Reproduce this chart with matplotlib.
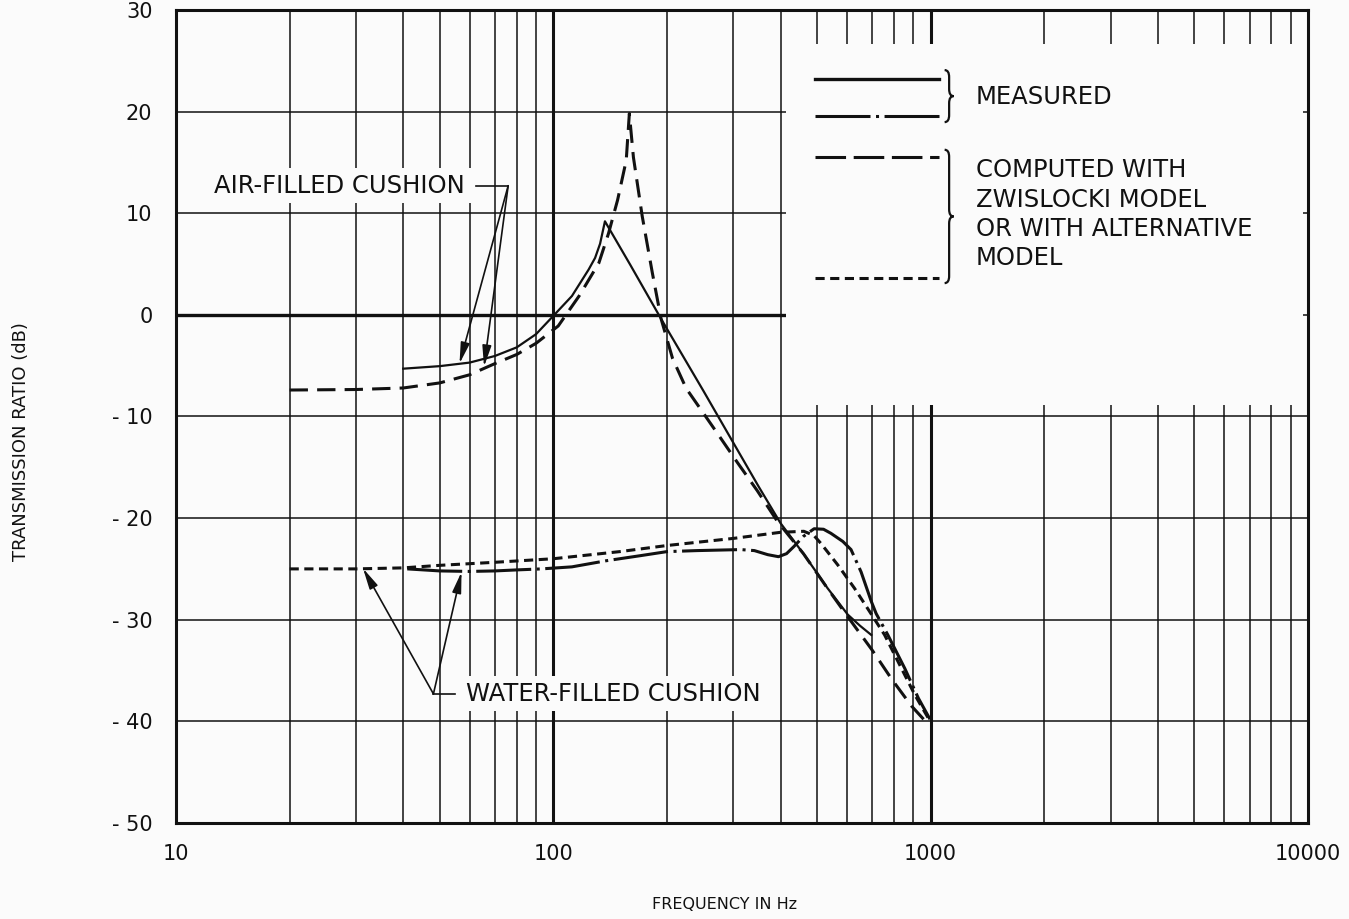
import matplotlib
matplotlib.use("Agg")
import matplotlib.pyplot as plt
from matplotlib.lines import Line2D
from matplotlib.patches import Rectangle, PathPatch
from matplotlib.path import Path

# ---- data ----
# air-filled cushion, measured (solid)
air_meas_f = [40, 50, 60, 70, 80, 90, 100, 112, 124, 129, 133, 137, 160, 193, 250, 300, 350, 400,
              462, 533, 603, 650, 696]
air_meas_db = [-5.3, -5.05, -4.7, -4.05, -3.2, -1.9, -0.1, 1.85, 4.45, 5.6, 7.0, 9.2, 4.9, -0.4,
               -7.5, -12.6, -16.9, -20.5, -23.6, -26.9, -29.5, -30.6, -31.5]

# air-filled cushion, computed (long dash)
air_comp_f = [20, 30, 40, 50, 60, 70, 80, 90, 103, 117, 132, 140, 148, 156, 159, 163, 172, 183,
              193, 207, 225, 249, 276, 307, 347, 392, 460, 530, 600, 700, 790, 890, 980]
air_comp_db = [-7.4, -7.35, -7.2, -6.7, -5.9, -4.8, -3.9, -2.8, -1.1, 1.85, 5.1, 8.0, 11.3, 15.2,
               19.8, 15.5, 9.7, 4.1, -0.4, -4.3, -7.25, -9.6, -12.0, -14.5, -17.3, -20.3, -23.5,
               -26.8, -29.6, -33.0, -35.9, -38.5, -40.2]

# water-filled cushion, measured (dash-dot)
water_meas_f = [41, 50, 60, 70, 80, 93, 112, 138, 170, 200, 240, 314, 341, 370, 395, 415, 434,
                460, 491, 520, 544, 585, 615, 654, 696, 717, 770, 854, 927, 996]
water_meas_db = [-25.0, -25.2, -25.25, -25.2, -25.1, -25.0, -24.8, -24.2, -23.7, -23.3, -23.2,
                 -23.1, -23.2, -23.6, -23.8, -23.5, -22.8, -21.8, -21.05, -21.1, -21.5, -22.3,
                 -23.1, -25.3, -28.2, -29.4, -31.5, -34.8, -37.7, -39.8]

# water-filled cushion, computed with alternative model (short dash)
water_comp_f = [20, 30, 40, 50, 70, 100, 150, 200, 300, 400, 461, 490, 512, 567, 628, 689, 755,
                837, 908, 986]
water_comp_db = [-25.0, -25.0, -24.9, -24.65, -24.35, -24.0, -23.3, -22.7, -22.0, -21.4, -21.3,
                 -21.7, -22.5, -24.6, -26.9, -29.2, -31.5, -34.8, -37.4, -39.7]

x_ticks = [10, 100, 1000, 10000]
x_tick_labels = ["10", "100", "1000", "10000"]
y_ticks = [-50, -40, -30, -20, -10, 0, 10, 20, 30]
y_tick_labels = ["- 50", "- 40", "- 30", "- 20", "- 10", "0", "10", "20", "30"]

legend_texts = ["MEASURED", "COMPUTED WITH", "ZWISLOCKI MODEL", "OR WITH ALTERNATIVE", "MODEL"]

BG = "#fbfbfb"
INK = "#111111"

plt.rcParams["font.family"] = ["DejaVu Sans"]
plt.rcParams["axes.unicode_minus"] = False

fig = plt.figure(figsize=(13.49, 9.19), dpi=100, facecolor=BG)
ax = fig.add_axes([0.1305, 0.1045, 0.8391, 0.8847], facecolor=BG)
AX_W, AX_H = 1132.0, 813.0  # axes size in pixels

ax.set_xscale("log")
ax.set_xlim(10, 10000)
ax.set_ylim(-50, 30)

# grid
ax.set_axisbelow(True)
ax.grid(True, which="both", color=INK, lw=1.1)
ax.axvline(100, color=INK, lw=2.2, zorder=0.6)
ax.axvline(1000, color=INK, lw=2.2, zorder=0.6)
ax.hlines(0, 10, 414, color=INK, lw=2.4, zorder=0.7)

# blank panel holding the key
ax.add_patch(Rectangle((414, -8.9), 9710 - 414, 26.65 + 8.9, fc=BG, ec="none", zorder=1))

ax.set_xticks(x_ticks)
ax.set_xticklabels(x_tick_labels)
ax.set_yticks(y_ticks)
ax.set_yticklabels(y_tick_labels)
ax.xaxis.set_minor_formatter(plt.NullFormatter())
ax.tick_params(which="both", length=0, labelsize=15, colors=INK)
ax.tick_params(axis="x", pad=15)
ax.tick_params(axis="y", pad=17)
for sp in ax.spines.values():
    sp.set_linewidth(2.2)
    sp.set_color(INK)

# curves
LW = 2.2
ax.plot(air_meas_f, air_meas_db, color=INK, lw=1.6, zorder=3)
ax.plot(air_comp_f, air_comp_db, color=INK, lw=LW, ls=(0, (6, 3)), zorder=3)
ax.plot(water_meas_f, water_meas_db, color=INK, lw=LW, ls=(0, (18, 1.8, 1, 1.8)), zorder=3)
ax.plot(water_comp_f, water_comp_db, color=INK, lw=LW, ls=(0, (3, 1.8)), zorder=3)

# labels with arrows
FS = 17.5
txt_kw = dict(fontsize=FS, color=INK, va="center", zorder=4,
              bbox=dict(fc=BG, ec="none", pad=4))
arr = dict(arrowstyle="-|>,head_length=0.7,head_width=0.15", color=INK, lw=1.2,
           shrinkA=0, shrinkB=0, mutation_scale=18)

ax.text(58.3, 12.7, "AIR-FILLED CUSHION", ha="right", **txt_kw)
ax.plot([62.2, 75.9], [12.7, 12.7], color=INK, lw=1.2, zorder=4)
ax.annotate("", xy=(56.4, -4.8), xytext=(75.9, 12.7), arrowprops=arr, zorder=4)
ax.annotate("", xy=(65.5, -5.1), xytext=(75.9, 12.7), arrowprops=arr, zorder=4)

ax.text(58.7, -37.3, "WATER-FILLED CUSHION", ha="left", **txt_kw)
ax.plot([48.1, 54.8], [-37.3, -37.3], color=INK, lw=1.2, zorder=4)
ax.annotate("", xy=(31.3, -24.95), xytext=(48.1, -37.3), arrowprops=arr, zorder=4)
ax.annotate("", xy=(57.1, -25.3), xytext=(48.1, -37.3), arrowprops=arr, zorder=4)

# key
kx0, kx1 = 0.5645, 0.674
key_styles = [
    (0.915, dict(lw=2.4, ls="-")),
    (0.869, dict(lw=LW, ls=(0, (18, 1.8, 1, 1.8)))),
    (0.819, dict(lw=LW, ls=(0, (10, 2.5)))),
    (0.670, dict(lw=LW, ls=(0, (3, 1.8)))),
]
for ky, st in key_styles:
    ax.add_artist(Line2D([kx0, kx1], [ky, ky], transform=ax.transAxes, color=INK, zorder=5, **st))


def brace(x0, y_top, y_bot, w_px=9, r_px=7):
    wx = w_px / AX_W
    ry = r_px / AX_H
    xm = x0 + wx * 0.5
    xe = x0 + wx
    ym = (y_top + y_bot) / 2
    verts = [(x0, y_top), (xm, y_top), (xm, y_top - ry),
             (xm, ym + ry), (xm, ym), (xe, ym),
             (xm, ym), (xm, ym - ry),
             (xm, y_bot + ry), (xm, y_bot), (x0, y_bot)]
    codes = [Path.MOVETO, Path.CURVE3, Path.CURVE3,
             Path.LINETO, Path.CURVE3, Path.CURVE3,
             Path.CURVE3, Path.CURVE3,
             Path.LINETO, Path.CURVE3, Path.CURVE3]
    ax.add_patch(PathPatch(Path(verts, codes), transform=ax.transAxes, fc="none",
                           ec=INK, lw=1.6, zorder=5))


brace(0.679, 0.926, 0.862)
brace(0.679, 0.828, 0.664)

text_x = 0.7067
ax.text(text_x, 0.893, legend_texts[0], transform=ax.transAxes, fontsize=FS, color=INK,
        va="center", zorder=5)
for t, ty in zip(legend_texts[1:], [0.803, 0.766, 0.731, 0.695]):
    ax.text(text_x, ty, t, transform=ax.transAxes, fontsize=FS, color=INK, va="center", zorder=5)

ax.set_xlabel("FREQUENCY IN Hz", fontsize=11.5, color=INK)
ax.xaxis.set_label_coords(0.485, -0.091)
ax.set_ylabel("TRANSMISSION RATIO (dB)", fontsize=13, color=INK)
ax.yaxis.set_label_coords(-0.129, 0.469)

fig.savefig("out.png", dpi=100, facecolor=BG)
